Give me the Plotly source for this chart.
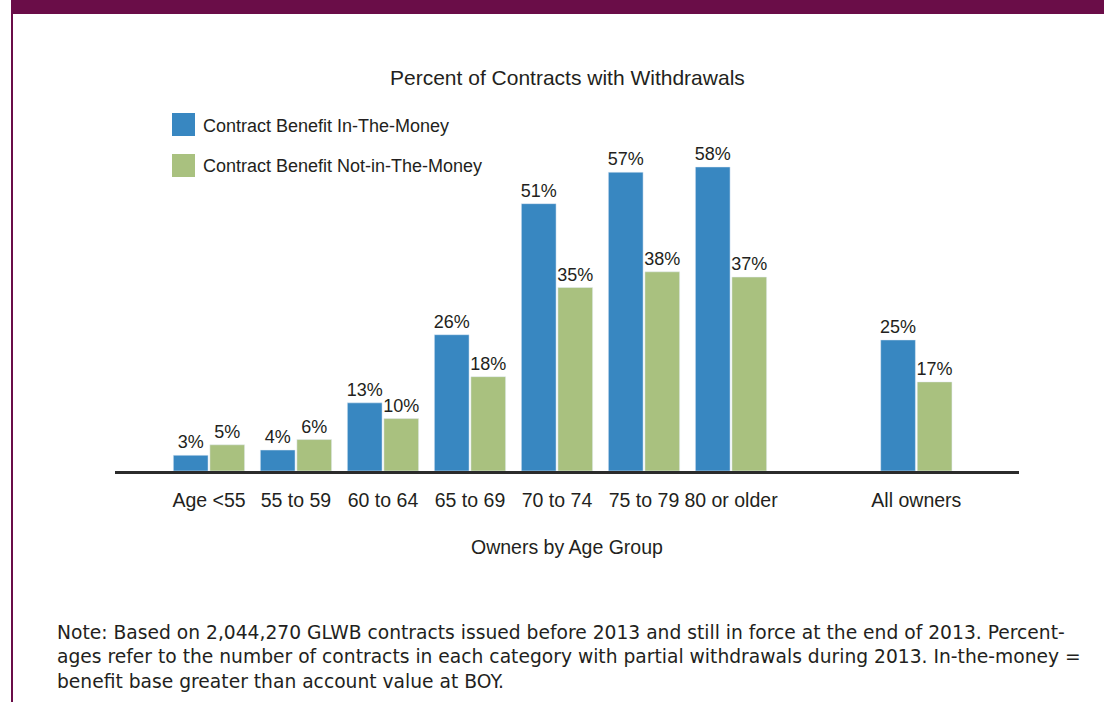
import plotly.graph_objects as go

# ---- data ----
categories = ["Age <55", "55 to 59", "60 to 64", "65 to 69", "70 to 74", "75 to 79", "80 or older", "All owners"]
in_the_money = [3, 4, 13, 26, 51, 57, 58, 25]
not_in_the_money = [5, 6, 10, 18, 35, 38, 37, 17]
series_names = ["Contract Benefit In-The-Money", "Contract Benefit Not-in-The-Money"]
chart_title = "Percent of Contracts with Withdrawals"
x_title = "Owners by Age Group"
note_lines = [
    "Note: Based on 2,044,270 GLWB contracts issued before 2013 and still in force at the end of 2013. Percent-",
    "ages refer to the number of contracts in each category with partial withdrawals during 2013. In-the-money =",
    "benefit base greater than account value at BOY.",
]

# ---- layout geometry ----
W, H = 1104, 702
L, R = 115, 1019          # plot area left/right in px
T, B = 146, 471           # plot area top/bottom in px
# positions: age groups evenly spaced, "All owners" separated by a gap
x_pos = list(range(len(categories) - 1)) + [len(categories) - 1 + 1.13]

def px(xp):
    return (xp - L) / (R - L)

def py(yp):
    return (B - yp) / (B - T)

BLUE = "#3887c1"
GREEN = "#a9c17f"
PURPLE = "#6a0d48"
TXT = "#231f20"
SANS = "Liberation Sans, Arial, sans-serif"
BODY = "DejaVu Sans, sans-serif"

fig = go.Figure()
for vals, name, col in [(in_the_money, series_names[0], BLUE), (not_in_the_money, series_names[1], GREEN)]:
    fig.add_trace(go.Bar(x=x_pos, y=vals, name=name, marker_color=col,
                         text=[f"{v}%" for v in vals], textposition="outside", constraintext="none",
                         textfont=dict(family=SANS, size=18, color=TXT), cliponaxis=False))

shapes = [
    # top purple band
    dict(type="rect", xref="paper", yref="paper", x0=px(11), x1=px(W + 5), y0=py(14), y1=py(-5),
         fillcolor=PURPLE, line_width=0, layer="above"),
    # left vertical rule
    dict(type="line", xref="paper", yref="paper", x0=px(12), x1=px(12), y0=py(14), y1=py(H + 5),
         line=dict(color=PURPLE, width=2)),
    # legend swatches
    dict(type="rect", xref="paper", yref="paper", x0=px(172), x1=px(195), y0=py(136), y1=py(113),
         fillcolor=BLUE, line_width=0),
    dict(type="rect", xref="paper", yref="paper", x0=px(172), x1=px(195), y0=py(177), y1=py(154),
         fillcolor=GREEN, line_width=0),
]

annotations = [
    dict(text=chart_title, xref="paper", yref="paper", x=0.5, y=py(77), xanchor="center", yanchor="middle",
         showarrow=False, font=dict(family=SANS, size=21, color=TXT)),
    dict(text=series_names[0], xref="paper", yref="paper", x=px(201), y=py(126), xanchor="left", yanchor="middle",
         showarrow=False, font=dict(family=SANS, size=18, color=TXT)),
    dict(text=series_names[1], xref="paper", yref="paper", x=px(201), y=py(166), xanchor="left", yanchor="middle",
         showarrow=False, font=dict(family=SANS, size=18, color=TXT)),
    dict(text=x_title, xref="paper", yref="paper", x=0.5, y=py(547), xanchor="center", yanchor="middle",
         showarrow=False, font=dict(family=SANS, size=19.5, color=TXT)),
]
for i, line in enumerate(note_lines):
    annotations.append(dict(text=line, xref="paper", yref="paper", x=px(55), y=py(632 + 24.5 * i),
                            xanchor="left", yanchor="middle", showarrow=False,
                            font=dict(family=BODY, size=18.7, color=TXT)))

fig.update_layout(
    width=W, height=H,
    margin=dict(l=L, r=W - R, t=T, b=H - B, pad=0),
    paper_bgcolor="white", plot_bgcolor="white",
    barmode="group", bargap=0.16, bargroupgap=0.05,
    showlegend=False,
    shapes=shapes, annotations=annotations,
    xaxis=dict(range=[-1.08, 9.31], tickmode="array", tickvals=x_pos, ticktext=categories,
               showgrid=False, zeroline=False, showline=True, linecolor="#2b2b2b", linewidth=3,
               ticks="", tickangle=0, ticklabelstandoff=10,
               tickfont=dict(family=SANS, size=19.5, color=TXT)),
    yaxis=dict(range=[0, 62], visible=False, showgrid=False, zeroline=False),
)

fig.write_html("out.html", config={"displayModeBar": False},
               post_script="document.body.style.margin='0';")
